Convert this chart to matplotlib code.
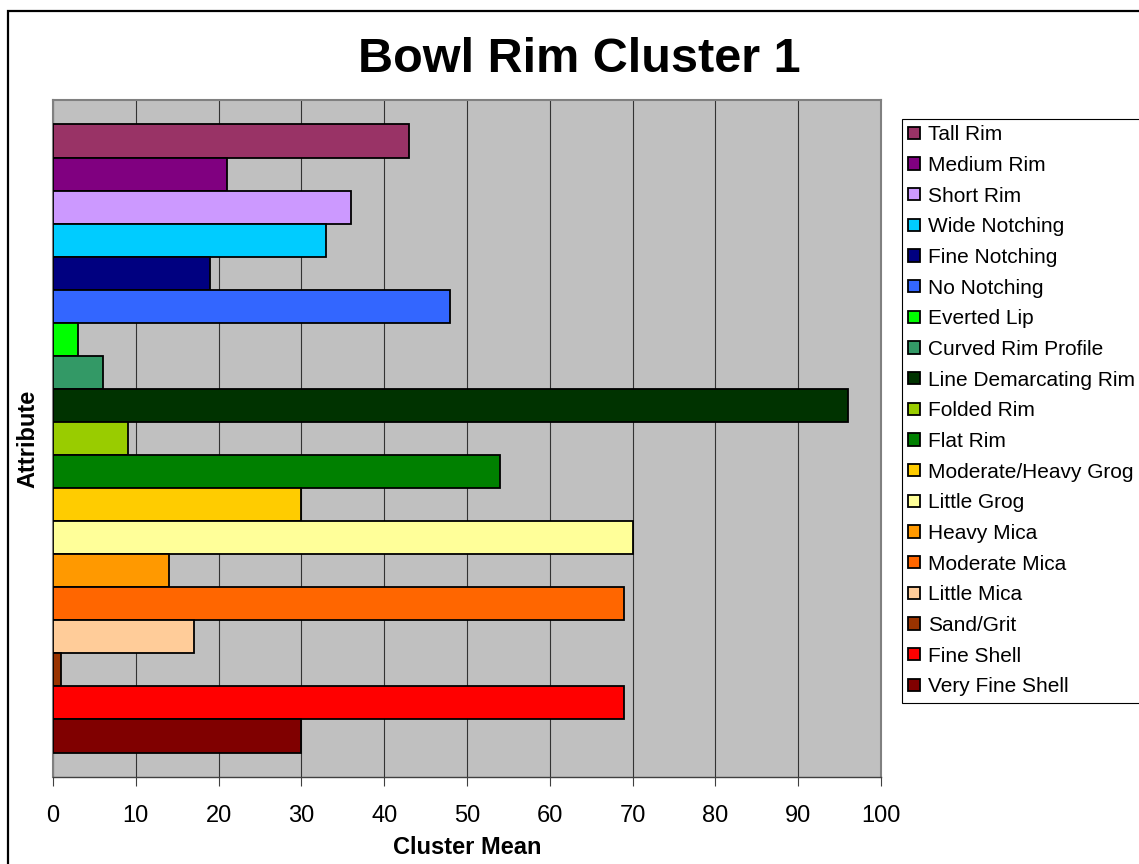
import numpy as np
import matplotlib.pyplot as plt
from matplotlib.patches import Rectangle

plt.rcParams['font.family'] = ['Liberation Sans', 'DejaVu Sans']

# legend order, top to bottom
attributes = ['Tall Rim', 'Medium Rim', 'Short Rim', 'Wide Notching', 'Fine Notching',
              'No Notching', 'Everted Lip', 'Curved Rim Profile', 'Line Demarcating Rim',
              'Folded Rim', 'Flat Rim', 'Moderate/Heavy Grog', 'Little Grog', 'Heavy Mica',
              'Moderate Mica', 'Little Mica', 'Sand/Grit', 'Fine Shell', 'Very Fine Shell']
cluster_mean = [43, 21, 36, 33, 19, 48, 3, 6, 96, 9, 54, 30, 70, 14, 69, 17, 1, 69, 30]
colors = ['#993366', '#800080', '#CC99FF', '#00CCFF', '#000080', '#3366FF', '#00FF00',
          '#339966', '#003300', '#99CC00', '#008000', '#FFCC00', '#FFFF99', '#FF9900',
          '#FF6600', '#FFCC99', '#993300', '#FF0000', '#800000']

W, H = 1139, 864
fig = plt.figure(figsize=(W / 100, H / 100), dpi=100)

# outer chart frame (runs off the right and bottom edges)
fig.patches.append(Rectangle((8 / W, -0.05), 1.2, 1 - 11 / H + 0.05, transform=fig.transFigure,
                             fill=False, edgecolor='black', linewidth=1.6, clip_on=False))

ax = fig.add_axes([53 / W, 1 - 777 / H, 828 / W, 677 / H])
ax.set_facecolor('#C0C0C0')

n = len(attributes)
for i in range(n):
    ax.barh(n - 1 - i, cluster_mean[i], height=1.0, color=colors[i], edgecolor='black',
            linewidth=1.3, label=attributes[i], zorder=3)

ax.set_xlim(0, 100)
ax.set_ylim(-0.5 - 0.74, n - 0.5 + 0.74)
ax.set_xticks(range(0, 101, 10))
ax.set_yticks([])
ax.grid(axis='x', color='#333333', linewidth=0.8)
ax.set_axisbelow(True)
for s in ['top', 'right', 'left']:
    ax.spines[s].set_color('#808080')
    ax.spines[s].set_linewidth(1.5)
ax.spines['bottom'].set_color('#404040')
ax.spines['bottom'].set_linewidth(1.0)
ax.tick_params(axis='x', direction='out', length=6.5, width=0.8, color='#404040',
               pad=14, labelsize=17)

ax.set_xlabel('Cluster Mean', fontsize=17, fontweight='bold', va='center')
ax.xaxis.set_label_coords(0.5, (777 - 847) / 677)
ax.set_ylabel('Attribute', fontsize=17, fontweight='bold', va='center')
ax.yaxis.set_label_coords((27.5 - 53) / 828, 0.5)

fig.text(579.5 / W, 1 - 72 / H, 'Bowl Rim Cluster 1', ha='center', va='baseline',
         fontsize=35, fontweight='bold')

leg = ax.legend(loc='upper left', bbox_to_anchor=(902 / W, 1 - 119 / H),
                bbox_transform=fig.transFigure, borderaxespad=0, fontsize=15,
                handlelength=0.55, handleheight=0.55, handletextpad=0.38,
                labelspacing=0.56, borderpad=0.3, fancybox=False, framealpha=1)
leg.get_frame().set_edgecolor('black')
leg.get_frame().set_linewidth(0.8)

fig.savefig('out.png', dpi=100)
